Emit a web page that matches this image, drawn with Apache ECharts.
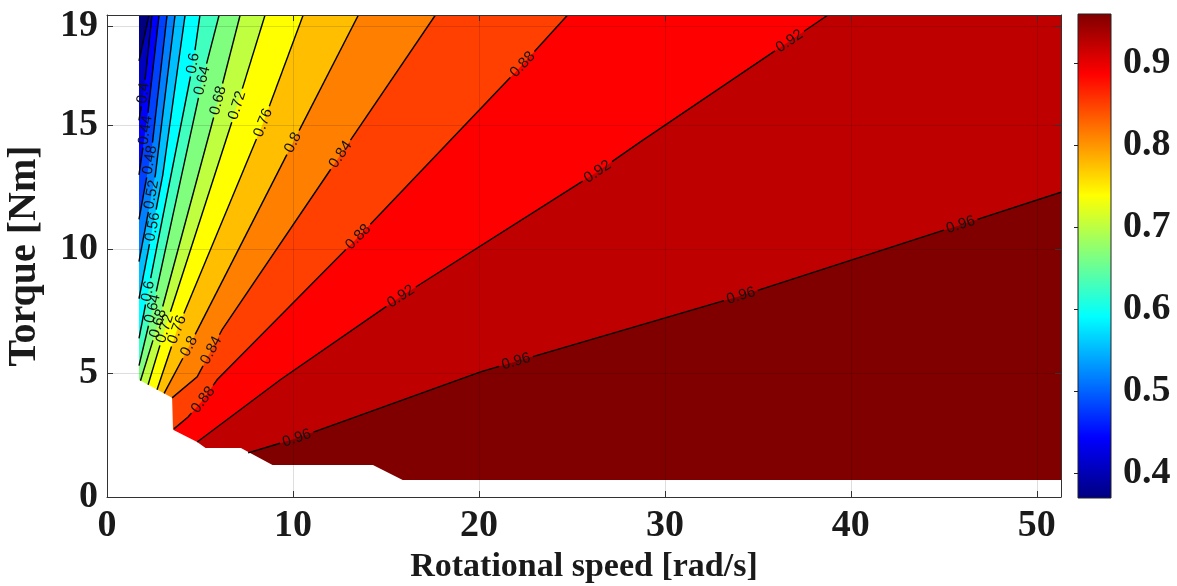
<!DOCTYPE html>
<html><head><meta charset="utf-8">
<script src="https://cdn.jsdelivr.net/npm/echarts@6/dist/echarts.min.js"></script>
<style>html,body{margin:0;padding:0;background:#fff}#chart{width:1177px;height:586px}</style>
</head><body><div id="chart"></div>
<script>
// ---------------- data ----------------
const levels = [0.36,0.40,0.44,0.48,0.52,0.56,0.60,0.64,0.68,0.72,0.76,0.80,0.84,0.88,0.92,0.96];
// contour lines, [speed, torque], from the low-left start to the top / right end
const line036 = [[1.72,17.6],[2.26,19.45]];
const line040 = [[1.72,15.2],[2.0,16.5],[2.42,19.45]];
const line044 = [[1.72,13.0],[2.2,15.5],[2.8,19.45]];
const line048 = [[1.72,11.2],[2.4,14.0],[3.23,19.45]];
const line052 = [[1.72,9.5],[2.6,13.0],[3.66,19.45]];
const line056 = [[1.72,8.0],[3.0,13.0],[4.2,19.45]];
const line060 = [[1.72,6.4],[2.21,8.3],[4.63,17.5],[5.0,19.45]];
const line064 = [[1.72,5.3],[2.45,7.6],[5.12,16.8],[6.03,19.45]];
const line068 = [[1.80,4.69],[2.75,7.0],[5.98,16.0],[7.16,19.45]];
const line072 = [[2.21,4.53],[3.12,6.8],[7.0,15.8],[8.5,19.45]];
const line076 = [[2.69,4.33],[3.77,6.75],[8.4,15.1],[10.55,19.45]];
const line080 = [[3.07,4.18],[4.36,6.0],[10.0,14.3],[13.52,19.45]];
const line084 = [[3.5,4.0],[4.85,4.85],[6.19,6.75],[12.55,13.8],[17.66,19.45]];
const line088 = [[3.6,2.75],[4.36,3.23],[5.17,3.92],[5.92,4.73],[13.52,10.5],[22.35,17.45],[24.77,19.45]];
const line092 = [[4.85,2.22],[9.32,4.73],[15.78,8.08],[26.39,13.13],[28.7,14.34],[36.67,18.38],[38.77,19.45]];
const line096 = [[7.59,1.78],[10.23,2.38],[20.09,5.05],[34.09,8.12],[45.93,10.99],[51.3,12.3]];
const contourLines = [line036,line040,line044,line048,line052,line056,line060,line064,
                      line068,line072,line076,line080,line084,line088,line092,line096];
// edge of the computed region (lower-left staircase)
const domainEdge = [[1.72,19.45],[1.72,4.73],[3.5,4.0],[3.55,2.71],[4.85,2.22],[5.3,1.98],
                    [7.2,1.98],[8.9,1.29],[14.3,1.29],[15.9,0.69],[51.3,0.69]];
// inline contour labels: level and approximate place on its line
const labelLevels = [0.96,0.96,0.96,0.96, 0.92,0.92,0.92, 0.88,0.88,0.88, 0.84,0.84,
                     0.80,0.80, 0.76,0.76, 0.72,0.72, 0.68,0.68, 0.64,0.64, 0.60,0.60,
                     0.56, 0.52, 0.48, 0.44, 0.40];
const labelPoints = [[10.2,2.4],[22.1,5.2],[34.1,8.1],[45.9,11.0],
                     [15.8,8.1],[26.4,13.1],[36.7,18.4],
                     [5.2,3.9],[13.5,10.5],[22.35,17.45],
                     [5.55,5.94],[12.55,13.82],
                     [4.36,6.1],[10.0,14.3],
                     [3.77,6.75],[8.4,15.1],
                     [3.12,6.8],[7.0,15.8],
                     [2.75,7.0],[5.98,16.0],
                     [2.45,7.6],[5.12,16.8],
                     [2.21,8.3],[4.63,17.5],
                     [2.46,10.9],[2.4,12.2],[2.3,13.6],[2.07,14.8],[1.94,16.3]];
const xTicks = [0,10,20,30,40,50];
const yTicks = [0,5,10,15,19];
const cbTicks = [0.4,0.5,0.6,0.7,0.8,0.9];
const XMAX = 51.3, YMAX = 19.45;
const CMIN = 0.37, CMAX = 0.96;        // colour bar range
const FILL_CMIN = 0.32;                // colour scale used for the filled bands
// ---------------------------------------------------------------

const XHI = XMAX + 5, YHI = YMAX + 5, YLO = -5;
const SERIF = 'Liberation Serif';
const CL_FONT = 15;

function clamp01(v){ return Math.max(0, Math.min(1, v)); }
function jetT(t){
  t = clamp01(t);
  const r = clamp01(1.5 - Math.abs(4*t - 3)), g = clamp01(1.5 - Math.abs(4*t - 2)), b = clamp01(1.5 - Math.abs(4*t - 1));
  return 'rgb(' + Math.round(r*255) + ',' + Math.round(g*255) + ',' + Math.round(b*255) + ')';
}
function fillColor(v){ return jetT((v - FILL_CMIN) / (CMAX - FILL_CMIN)); }
function levelIndex(L){ return levels.findIndex(v => Math.abs(v - L) < 1e-9); }
function fmtLevel(L){ return String(+L.toFixed(2)); }
function textWidth(txt){ let w = 0; for (const ch of txt) w += (ch === '.') ? 0.278 : 0.556; return w * CL_FONT; }

function cumLengths(pts){
  const c = [0];
  for (let i = 1; i < pts.length; i++) c.push(c[i-1] + Math.hypot(pts[i][0]-pts[i-1][0], pts[i][1]-pts[i-1][1]));
  return c;
}
function pointAt(pts, cum, s){
  s = Math.max(0, Math.min(cum[cum.length-1], s));
  for (let i = 0; i < pts.length - 1; i++) {
    if (s <= cum[i+1] || i === pts.length - 2) {
      const L = cum[i+1] - cum[i]; const t = L > 0 ? (s - cum[i]) / L : 0;
      return [pts[i][0] + t*(pts[i+1][0]-pts[i][0]), pts[i][1] + t*(pts[i+1][1]-pts[i][1])];
    }
  }
  return pts[pts.length-1];
}
function project(pts, cum, p){
  let best = {d: Infinity, s: 0};
  for (let i = 0; i < pts.length - 1; i++) {
    const a = pts[i], b = pts[i+1];
    const dx = b[0]-a[0], dy = b[1]-a[1], L2 = dx*dx + dy*dy;
    const t = L2 > 0 ? clamp01(((p[0]-a[0])*dx + (p[1]-a[1])*dy) / L2) : 0;
    const qx = a[0] + t*dx, qy = a[1] + t*dy;
    const d = Math.hypot(p[0]-qx, p[1]-qy);
    if (d < best.d) best = {d: d, s: cum[i] + t*Math.sqrt(L2), x: qx, y: qy};
  }
  return best;
}
function subPolyline(pts, cum, a, b){
  const out = [pointAt(pts, cum, a)];
  for (let i = 0; i < pts.length; i++) if (cum[i] > a && cum[i] < b) out.push(pts[i]);
  out.push(pointAt(pts, cum, b));
  return out;
}
function cutPolyline(pts, gaps){
  const cum = cumLengths(pts), total = cum[cum.length-1];
  gaps.sort((p, q) => p[0] - q[0]);
  const keep = []; let cur = 0;
  for (const g of gaps) { if (g[0] > cur) keep.push([cur, g[0]]); cur = Math.max(cur, g[1]); }
  if (cur < total) keep.push([cur, total]);
  return keep.filter(k => k[1] - k[0] > 0.5).map(k => subPolyline(pts, cum, k[0], k[1]));
}
function labelsOfLevel(L){
  const out = [];
  labelLevels.forEach((v, j) => { if (Math.abs(v - L) < 1e-9) out.push(j); });
  return out;
}
function bandPolygon(k){
  const pts = contourLines[k];
  const s = pts[0], e = pts[pts.length-1];
  const poly = pts.slice();
  if (e[1] >= YMAX - 1e-6) poly.push([e[0], YHI], [XHI, YHI]);
  else poly.push([XHI, e[1]]);
  poly.push([XHI, YLO], [s[0], YLO]);
  return poly;
}

const chart = echarts.init(document.getElementById('chart'), null, {renderer: 'canvas'});

const tickFont = {fontFamily: SERIF, fontWeight: 'bold', fontSize: 38, color: '#1a1a1a'};
const axisColor = '#333';

const cbStops = [];
for (let i = 0; i <= 64; i++) cbStops.push({offset: i/64, color: jetT(i/64)});

const option = {
  animation: false,
  backgroundColor: '#fff',
  grid: [
    {left: 107, top: 15, width: 954, height: 482, containLabel: false, outerBoundsMode: 'none'},
    {left: 1078, top: 14, width: 33, height: 484, containLabel: false, outerBoundsMode: 'none'}
  ],
  xAxis: [
    {gridIndex: 0, type: 'value', min: 0, max: XMAX, interval: 10, position: 'bottom', z: 6,
     axisLine: {show: true, onZero: false, lineStyle: {color: axisColor, width: 1}},
     axisTick: {show: true, inside: true, length: 6, customValues: xTicks, lineStyle: {color: axisColor}},
     axisLabel: Object.assign({show: true, margin: 10, customValues: xTicks}, tickFont),
     splitLine: {show: true, lineStyle: {color: 'rgba(0,0,0,0.13)', width: 1}},
     name: 'Rotational speed [rad/s]', nameLocation: 'middle', nameGap: 50,
     nameTextStyle: {fontFamily: SERIF, fontWeight: 'bold', fontSize: 34, color: '#1a1a1a'}},
    {gridIndex: 0, type: 'value', min: 0, max: XMAX, interval: 10, position: 'top', z: 6,
     axisLine: {show: true, onZero: false, lineStyle: {color: axisColor, width: 1}},
     axisTick: {show: true, inside: true, length: 6, customValues: xTicks, lineStyle: {color: axisColor}},
     axisLabel: {show: false}, splitLine: {show: false}},
    {gridIndex: 1, type: 'value', min: 0, max: 1, show: false}
  ],
  yAxis: [
    {gridIndex: 0, type: 'value', min: 0, max: YMAX, interval: 5, position: 'left', z: 6,
     axisLine: {show: true, onZero: false, lineStyle: {color: axisColor, width: 1}},
     axisTick: {show: true, inside: true, length: 6, customValues: yTicks, lineStyle: {color: axisColor}},
     axisLabel: Object.assign({show: true, margin: 9, customValues: yTicks}, tickFont),
     splitLine: {show: true, lineStyle: {color: 'rgba(0,0,0,0.13)', width: 1}},
     name: 'Torque [Nm]', nameLocation: 'middle', nameGap: 62,
     nameTextStyle: {fontFamily: SERIF, fontWeight: 'bold', fontSize: 40, color: '#1a1a1a'}},
    {gridIndex: 0, type: 'value', min: 0, max: YMAX, interval: 5, position: 'right', z: 6,
     axisLine: {show: true, onZero: false, lineStyle: {color: axisColor, width: 1}},
     axisTick: {show: true, inside: true, length: 6, customValues: yTicks, lineStyle: {color: axisColor}},
     axisLabel: {show: false}, splitLine: {show: false}},
    {gridIndex: 1, type: 'value', min: CMIN, max: CMAX, position: 'right', z: 6,
     axisLine: {show: false},
     axisTick: {show: true, inside: true, length: 4, customValues: cbTicks, lineStyle: {color: '#222'}},
     axisLabel: Object.assign({show: true, margin: 12, customValues: cbTicks,
       formatter: v => v.toFixed(1)}, tickFont),
     splitLine: {show: false}}
  ],
  series: [
    { // filled contour bands, painted from low to high level
      type: 'custom', coordinateSystem: 'cartesian2d', xAxisIndex: 0, yAxisIndex: 0, z: 2, clip: true, silent: true,
      data: [[-1, 0]].concat(levels.map((L, k) => [k, 0])),
      renderItem(params, api){
        const k = api.value(0);
        let poly, color;
        if (k < 0) { poly = [[-5, YLO], [-5, YHI], [XHI, YHI], [XHI, YLO]]; color = fillColor(FILL_CMIN); }
        else { poly = bandPolygon(k); color = fillColor(levels[k]); }
        return {type: 'polygon', z2: k + 2, shape: {points: poly.map(p => api.coord(p))}, style: {fill: color}};
      }
    },
    { // blank (not computed) area
      type: 'custom', coordinateSystem: 'cartesian2d', xAxisIndex: 0, yAxisIndex: 0, z: 3, clip: true, silent: true,
      data: [[0, 0]],
      renderItem(params, api){
        const e = domainEdge;
        const poly = [[-5, YHI], [e[0][0], YHI]].concat(e.slice(1), [[XHI, e[e.length-1][1]], [XHI, YLO], [-5, YLO]]);
        return {type: 'polygon', shape: {points: poly.map(p => api.coord(p))}, style: {fill: '#fff'}};
      }
    },
    { // contour lines with gaps for the labels
      type: 'custom', coordinateSystem: 'cartesian2d', xAxisIndex: 0, yAxisIndex: 0, z: 4, clip: true, silent: true,
      data: levels.map((L, k) => [k, 0]),
      renderItem(params, api){
        const k = api.value(0);
        const px = contourLines[k].map(p => api.coord(p));
        const cum = cumLengths(px);
        const gaps = labelsOfLevel(levels[k]).map(j => {
          const pr = project(px, cum, api.coord(labelPoints[j]));
          const w = textWidth(fmtLevel(levels[k])) / 2 + 3;
          return [pr.s - w, pr.s + w];
        });
        const pieces = cutPolyline(px, gaps);
        return {type: 'group', children: pieces.map(p => ({type: 'polyline', shape: {points: p},
          style: {stroke: '#000', lineWidth: 1.4, fill: null}}))};
      }
    },
    { // inline labels
      type: 'custom', coordinateSystem: 'cartesian2d', xAxisIndex: 0, yAxisIndex: 0, z: 5, clip: true, silent: true,
      data: labelPoints.map((p, j) => [j, 0]),
      renderItem(params, api){
        const j = api.value(0);
        const L = labelLevels[j];
        const k = levelIndex(L);
        const px = contourLines[k].map(p => api.coord(p));
        const cum = cumLengths(px);
        const pr = project(px, cum, api.coord(labelPoints[j]));
        const txt = fmtLevel(L);
        const w = textWidth(txt);
        const a = pointAt(px, cum, pr.s - w/2), b = pointAt(px, cum, pr.s + w/2);
        let ang = Math.atan2(-(b[1]-a[1]), b[0]-a[0]);
        if (ang > Math.PI/2) ang -= Math.PI;
        if (ang < -Math.PI/2) ang += Math.PI;
        return {type: 'text', x: pr.x, y: pr.y, rotation: ang,
          style: {text: txt, fontFamily: 'Liberation Sans', fontSize: CL_FONT, fill: '#111',
                  align: 'center', verticalAlign: 'middle'}};
      }
    },
    { // colour bar
      type: 'custom', coordinateSystem: 'cartesian2d', xAxisIndex: 2, yAxisIndex: 2, z: 3, silent: true,
      data: [[0, 0]],
      renderItem(params, api){
        const p1 = api.coord([0, CMAX]), p2 = api.coord([1, CMIN]);
        return {type: 'rect', shape: {x: p1[0], y: p1[1], width: p2[0]-p1[0], height: p2[1]-p1[1]},
          style: {fill: new echarts.graphic.LinearGradient(0, 1, 0, 0, cbStops), stroke: '#222', lineWidth: 1}};
      }
    }
  ]
};
chart.setOption(option);
</script>
</body></html>
